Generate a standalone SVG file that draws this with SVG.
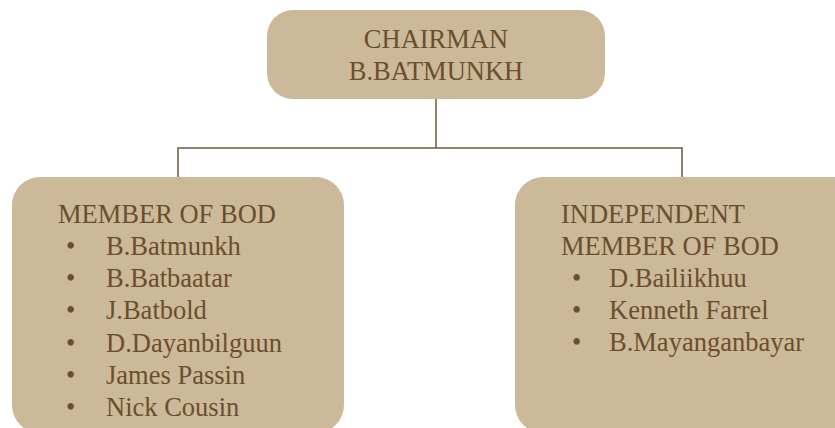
<svg xmlns="http://www.w3.org/2000/svg" width="835" height="428" viewBox="0 0 835 428">
<style>
.box{fill:#cbb99a;}
.t{font-family:"Liberation Serif","Times New Roman",serif;font-size:26.5px;fill:#6b4e2e;}
.c{text-anchor:middle;}
.ln{stroke:#6b5a40;stroke-width:1.5;fill:none;}
</style>
<rect width="835" height="428" fill="#ffffff"/>
<g id="connectors">
<path class="ln" d="M436 99 V148 M178 177 V148 H682 V177"/>
</g>
<g id="chairman">
<rect class="box" x="267" y="10" width="338" height="89" rx="26"/>
<text class="t c" x="436" y="48">CHAIRMAN</text>
<text class="t c" x="436" y="80">B.BATMUNKH</text>
</g>
<g id="members">
<rect class="box" x="12" y="177" width="332" height="256" rx="28"/>
<text class="t" x="58" y="223">MEMBER OF BOD</text>
<g class="t">
<text x="66" y="255">•</text><text x="106" y="255">B.Batmunkh</text>
<text x="66" y="287">•</text><text x="106" y="287">B.Batbaatar</text>
<text x="66" y="319">•</text><text x="106" y="319">J.Batbold</text>
<text x="66" y="352">•</text><text x="106" y="352">D.Dayanbilguun</text>
<text x="66" y="384">•</text><text x="106" y="384">James Passin</text>
<text x="66" y="416">•</text><text x="106" y="416">Nick Cousin</text>
</g>
</g>
<g id="independent">
<rect class="box" x="515" y="177" width="360" height="256" rx="28"/>
<text class="t" x="561" y="223">INDEPENDENT</text>
<text class="t" x="561" y="255">MEMBER OF BOD</text>
<g class="t">
<text x="572" y="287">•</text><text x="609" y="287">D.Bailiikhuu</text>
<text x="572" y="319">•</text><text x="609" y="319">Kenneth Farrel</text>
<text x="572" y="351">•</text><text x="609" y="351">B.Mayanganbayar</text>
</g>
</g>
</svg>
